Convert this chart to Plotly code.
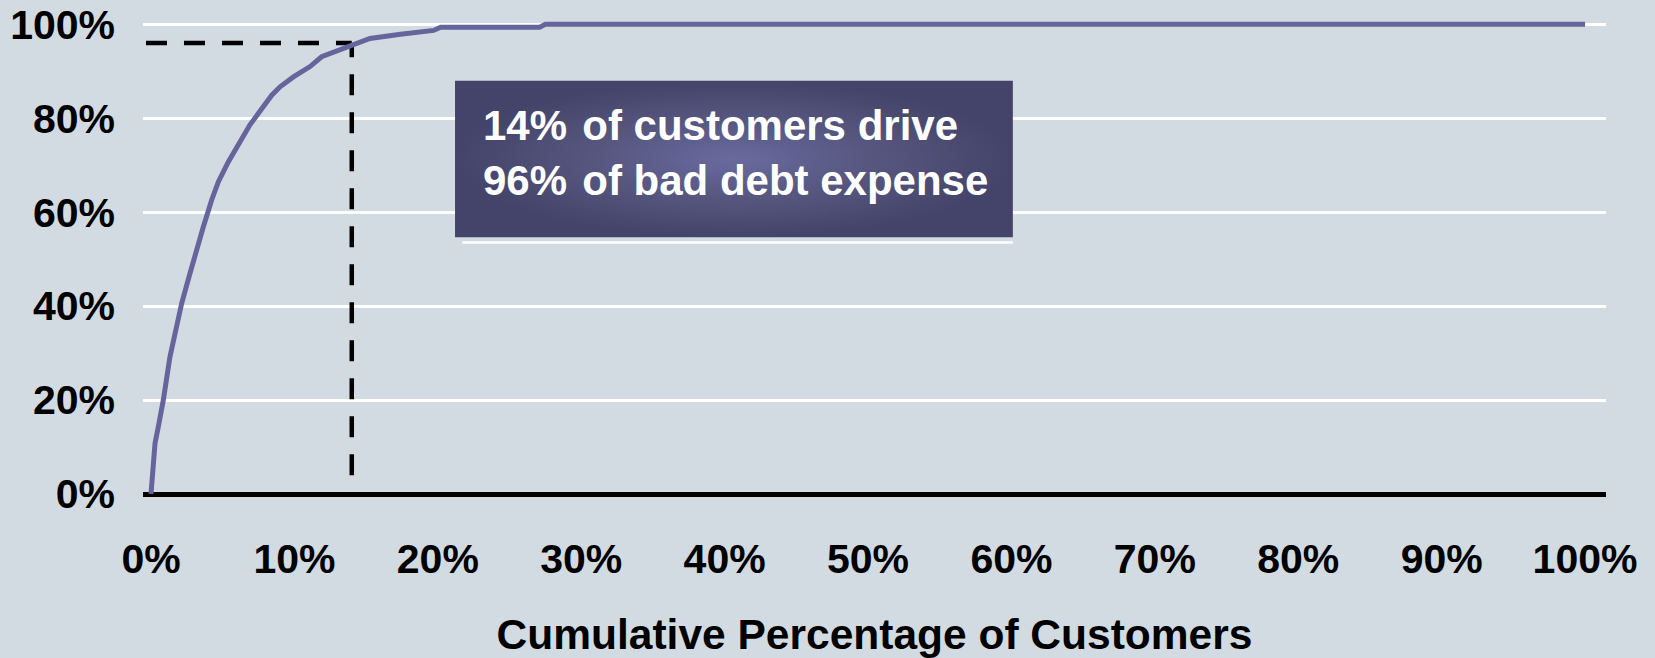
import plotly.graph_objects as go

# Cumulative share of customers (x) vs cumulative share of bad debt expense (y), in percent
customers_pct = [0, 0.28, 0.51, 0.86, 1.32, 1.67, 2.14, 2.72, 3.30, 3.65, 4.23, 4.70, 5.39,
                 6.90, 8.42, 9.00, 9.93, 11.09, 11.90, 13.18, 15.27, 17.4, 19.0, 19.7,
                 20.2, 27.1, 27.5, 100]
bad_debt_pct = [0, 10.8, 14.3, 20.0, 29.2, 34.2, 40.6, 47.0, 53.4, 56.9, 62.6, 66.5, 70.7,
                78.6, 84.9, 86.7, 88.8, 91.0, 93.1, 94.5, 97.0, 97.9, 98.6, 98.7,
                99.4, 99.4, 100, 100]

x_tick_vals = [0, 10, 20, 30, 40, 50, 60, 70, 80, 90, 100]
x_tick_text = ["0%", "10%", "20%", "30%", "40%", "50%", "60%", "70%", "80%", "90%", "100%"]
y_tick_vals = [0, 20, 40, 60, 80, 100]
y_tick_text = ["0%", "20%", "40%", "60%", "80%", "100%"]

# Highlighted point called out in the text box
focus_customers = 14
focus_debt = 96
callout_lines = [f"{focus_customers}% \u200aof customers drive",
                 f"{focus_debt}% \u200aof bad debt expense"]

BG = "#d3dbe2"
CURVE = "#65659c"
TICK_FONT = dict(family="Liberation Sans, Arial", size=41, color="black", weight=700)

fig = go.Figure()

# Dashed guides to the focus point
dash = "21px,17px"
fig.add_trace(go.Scatter(x=[-0.35, focus_customers], y=[focus_debt, focus_debt], mode="lines",
                         line=dict(color="black", width=4.5, dash=dash),
                         hoverinfo="skip", showlegend=False))
fig.add_trace(go.Scatter(x=[focus_customers, focus_customers], y=[4, focus_debt], mode="lines",
                         line=dict(color="black", width=4.5, dash=dash),
                         hoverinfo="skip", showlegend=False))

# Cumulative curve
fig.add_trace(go.Scatter(x=customers_pct, y=bad_debt_pct, mode="lines",
                         line=dict(color=CURVE, width=5), cliponaxis=False,
                         showlegend=False))

# Callout box with a soft radial shading
box_x0, box_x1, box_y0, box_y1 = 21.2, 60.1, 54.65, 88.0
fig.add_shape(type="line", x0=box_x0 + 0.5, x1=box_x1, y0=box_y0 - 1.1, y1=box_y0 - 1.1,
              line=dict(color="white", width=2.5), layer="above")
fig.add_trace(go.Scatter(x=[box_x0, box_x1, box_x1, box_x0, box_x0],
                         y=[box_y0, box_y0, box_y1, box_y1, box_y0],
                         mode="lines", fill="toself", line=dict(width=0),
                         fillgradient=dict(type="radial",
                                           colorscale=[[0, "#6a6aa0"], [0.5, "#56567f"], [1, "#44446a"]]),
                         hoverinfo="skip", showlegend=False))

fig.add_annotation(x=23.0, y=72.6, xref="x", yref="y", xanchor="left", yanchor="middle",
                   text="<br>".join(callout_lines),
                   showarrow=False, align="left",
                   font=dict(family="Liberation Sans, Arial", size=42, color="white", weight=700))

fig.update_layout(
    width=1655, height=658,
    margin=dict(l=143, r=49, t=20, b=164, autoexpand=False),
    paper_bgcolor=BG, plot_bgcolor=BG,
    showlegend=False,
)
fig.update_xaxes(range=[-0.558, 101.46], tickvals=x_tick_vals, ticktext=x_tick_text,
                 showgrid=False, zeroline=False, showline=False, ticks="", automargin=False,
                 tickfont=TICK_FONT, ticklabelstandoff=37, ticklabeloverflow="allow",
                 title=dict(text="Cumulative Percentage of Customers", standoff=39,
                            font=dict(family="Liberation Sans, Arial", size=42.5,
                                      color="black", weight=700)))
fig.update_yaxes(range=[0, 100.92], tickvals=y_tick_vals, ticktext=y_tick_text,
                 showgrid=True, gridcolor="white", gridwidth=3, automargin=False,
                 zeroline=True, zerolinecolor="black", zerolinewidth=5,
                 showline=False, ticks="", tickfont=TICK_FONT, ticklabelstandoff=27,
                 ticklabeloverflow="allow")

fig.write_html("out.html")
